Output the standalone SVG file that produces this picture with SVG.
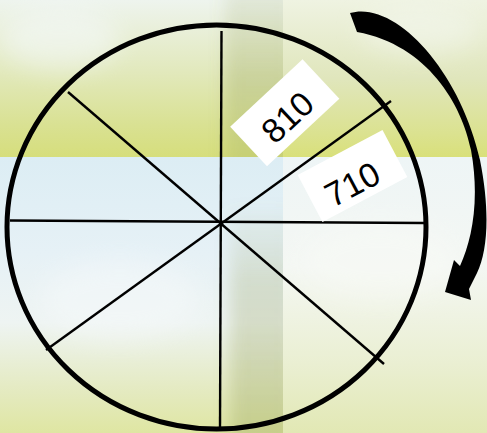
<svg xmlns="http://www.w3.org/2000/svg" width="487" height="433" viewBox="0 0 487 433">
  <defs>
    <linearGradient id="tl" x1="0" y1="0" x2="0" y2="1">
      <stop offset="0" stop-color="#eef4ee"/>
      <stop offset="0.45" stop-color="#e2e9bd"/>
      <stop offset="0.8" stop-color="#d9e192"/>
      <stop offset="1" stop-color="#d6de7c"/>
    </linearGradient>
    <linearGradient id="tr" x1="0" y1="0" x2="0" y2="1">
      <stop offset="0" stop-color="#eff3e2"/>
      <stop offset="0.5" stop-color="#e0e6bc"/>
      <stop offset="0.85" stop-color="#dbe290"/>
      <stop offset="1" stop-color="#d9e07a"/>
    </linearGradient>
    <linearGradient id="ml" x1="0" y1="0" x2="0" y2="1">
      <stop offset="0" stop-color="#dcedf4"/>
      <stop offset="0.35" stop-color="#e6f1f6"/>
      <stop offset="0.6" stop-color="#eef4f2"/>
      <stop offset="0.85" stop-color="#e4eac0"/>
      <stop offset="1" stop-color="#dfe6a2"/>
    </linearGradient>
    <linearGradient id="mr" x1="0" y1="0" x2="0" y2="1">
      <stop offset="0" stop-color="#eef5f6"/>
      <stop offset="0.4" stop-color="#f4f7f3"/>
      <stop offset="0.75" stop-color="#eaefd2"/>
      <stop offset="1" stop-color="#e2e8b4"/>
    </linearGradient>
    <linearGradient id="colv" x1="0" y1="0" x2="0" y2="1">
      <stop offset="0" stop-color="#8f9a55" stop-opacity="0"/>
      <stop offset="0.35" stop-color="#8f9a55" stop-opacity="0.25"/>
      <stop offset="1" stop-color="#8f9a55" stop-opacity="0.32"/>
    </linearGradient>
    <linearGradient id="colt" x1="0" y1="0" x2="0" y2="1">
      <stop offset="0" stop-color="#8f9a55" stop-opacity="0.12"/>
      <stop offset="0.5" stop-color="#8f9a55" stop-opacity="0.28"/>
      <stop offset="1" stop-color="#8f9a55" stop-opacity="0.2"/>
    </linearGradient>
    <filter id="blur" x="-30%" y="-30%" width="160%" height="160%">
      <feGaussianBlur stdDeviation="12"/>
    </filter>
    <filter id="soft" x="-50%" y="-20%" width="200%" height="140%">
      <feGaussianBlur stdDeviation="8 4"/>
    </filter>
    <clipPath id="clipTop"><rect x="0" y="0" width="283" height="157"/></clipPath>
    <clipPath id="clipBot"><rect x="0" y="157" width="283" height="276"/></clipPath>
    <style>
      .spoke{stroke:#000;stroke-width:2.4;fill:none}
      .rim{stroke:#000;stroke-width:5;fill:none}
      .box{fill:#fff}
      .lbl{font-family:"Liberation Sans","DejaVu Sans",sans-serif;font-size:34px;fill:#000;text-anchor:middle}
    </style>
  </defs>

  <g id="background">
    <rect x="0" y="0" width="283" height="157" fill="url(#tl)"/>
    <rect x="283" y="0" width="204" height="157" fill="url(#tr)"/>
    <rect x="0" y="157" width="283" height="276" fill="url(#ml)"/>
    <rect x="283" y="157" width="204" height="276" fill="url(#mr)"/>
    <g clip-path="url(#clipTop)">
      <rect x="225" y="-10" width="70" height="180" fill="url(#colt)" filter="url(#soft)"/>
    </g>
    <g clip-path="url(#clipBot)">
      <rect x="230" y="200" width="65" height="240" fill="url(#colv)" filter="url(#soft)"/>
    </g>
    <g filter="url(#blur)" opacity="0.5">
      <ellipse cx="60" cy="40" rx="60" ry="30" fill="#f6faff"/>
      <ellipse cx="420" cy="30" rx="60" ry="25" fill="#f4f8f2"/>
      <ellipse cx="120" cy="300" rx="80" ry="40" fill="#f6f9fb"/>
      <ellipse cx="380" cy="260" rx="80" ry="40" fill="#f8faf6"/>
    </g>
  </g>

  <g id="wheel">
    <ellipse class="rim" cx="216.5" cy="227" rx="209.5" ry="202"/>
  </g>

  <g id="connectors">
    <line class="spoke" x1="221.5" y1="31" x2="220" y2="428"/>
    <line class="spoke" x1="10" y1="220.5" x2="424" y2="223"/>
    <line class="spoke" x1="68" y1="92" x2="384" y2="364"/>
    <line class="spoke" x1="391" y1="101" x2="46" y2="350"/>
  </g>

  <g id="label-810" transform="translate(284.75 112.75) rotate(-43)">
    <rect class="box" x="-49.5" y="-27" width="99" height="54"/>
    <text class="lbl" x="-1" y="17">810</text>
  </g>

  <g id="label-710" transform="translate(352.5 176) rotate(-27.9)">
    <rect class="box" x="-48" y="-26.5" width="96" height="53"/>
    <text class="lbl" x="-4" y="19">710</text>
  </g>

  <g id="arrow">
    <path fill="#000" d="M350,13 C395,0 460,70 480,160 C490,210 488,250 477,273 L469,289 L471,300 L445,292 L454,260 L460,266 C472,240 480,200 471,150 C462,105 428,45 357,32 Z"/>
  </g>
</svg>
